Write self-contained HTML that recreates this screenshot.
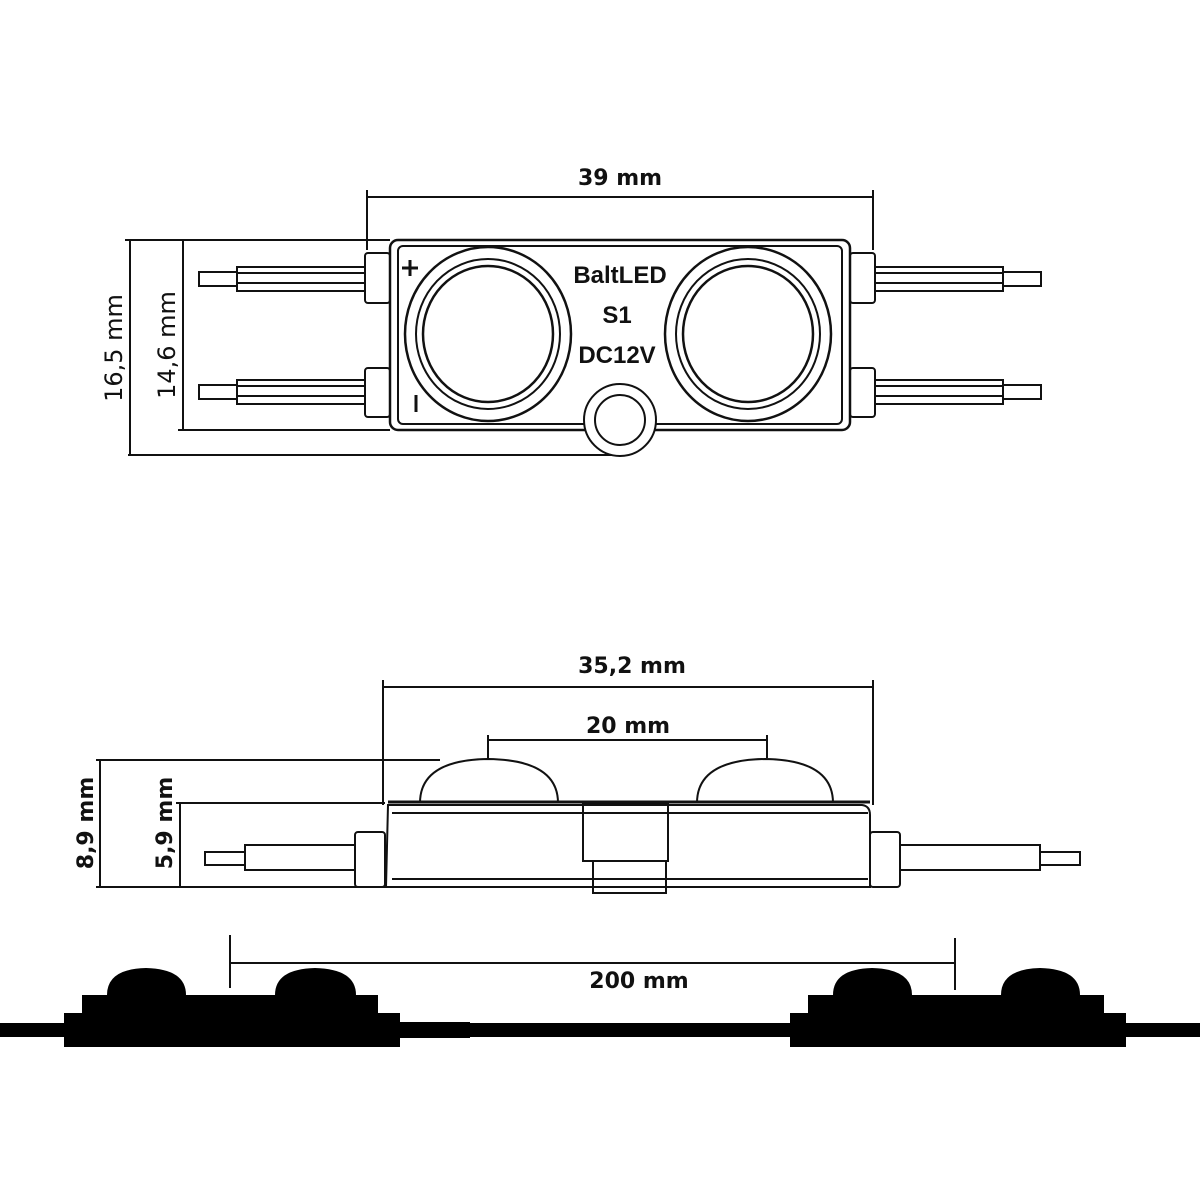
<!DOCTYPE html>
<html><head><meta charset="utf-8"><style>
html,body{margin:0;padding:0;background:#fff}
svg{display:block}
text{font-family:"DejaVu Sans","Liberation Sans",sans-serif;font-weight:bold;fill:#111}
</style></head><body>
<svg width="1200" height="1200" viewBox="0 0 1200 1200" xmlns="http://www.w3.org/2000/svg">
<g fill="none" stroke="#111" stroke-width="2">
<!-- TOP VIEW dimensions -->
<line x1="367" y1="197" x2="873" y2="197"/>
<line x1="367" y1="190" x2="367" y2="250"/>
<line x1="873" y1="190" x2="873" y2="250"/>
<line x1="125" y1="240" x2="390" y2="240"/>
<line x1="128" y1="455" x2="620" y2="455"/>
<line x1="130" y1="240" x2="130" y2="455"/>
<line x1="178" y1="430" x2="390" y2="430"/>
<line x1="183" y1="240" x2="183" y2="430"/>
<!-- left wires -->
<rect x="199" y="272" width="38" height="14"/>
<rect x="237" y="267" width="128" height="24"/>
<line x1="237" y1="273" x2="365" y2="273"/><line x1="237" y1="283" x2="365" y2="283"/>
<rect x="199" y="385" width="38" height="14"/>
<rect x="237" y="380" width="128" height="24"/>
<line x1="237" y1="386" x2="365" y2="386"/><line x1="237" y1="396" x2="365" y2="396"/>
<rect x="365" y="253" width="25" height="50" rx="3"/>
<rect x="365" y="368" width="25" height="49" rx="3"/>
<!-- right wires -->
<rect x="1003" y="272" width="38" height="14"/>
<rect x="875" y="267" width="128" height="24"/>
<line x1="875" y1="273" x2="1003" y2="273"/><line x1="875" y1="283" x2="1003" y2="283"/>
<rect x="1003" y="385" width="38" height="14"/>
<rect x="875" y="380" width="128" height="24"/>
<line x1="875" y1="386" x2="1003" y2="386"/><line x1="875" y1="396" x2="1003" y2="396"/>
<rect x="850" y="253" width="25" height="50" rx="3"/>
<rect x="850" y="368" width="25" height="49" rx="3"/>
<!-- body -->
<rect x="390" y="240" width="460" height="190" rx="8" stroke-width="2.5"/>
<rect x="398" y="246" width="444" height="178" rx="5"/>
<!-- lenses -->
<ellipse cx="488" cy="334" rx="83" ry="87" stroke-width="2.5"/>
<ellipse cx="488" cy="334" rx="72" ry="75"/>
<ellipse cx="488" cy="334" rx="65" ry="68" stroke-width="2.5"/>
<ellipse cx="748" cy="334" rx="83" ry="87" stroke-width="2.5"/>
<ellipse cx="748" cy="334" rx="72" ry="75"/>
<ellipse cx="748" cy="334" rx="65" ry="68" stroke-width="2.5"/>
<circle cx="620" cy="420" r="36" fill="#fff"/>
<circle cx="620" cy="420" r="25"/>
<line x1="410" y1="260" x2="410" y2="276" stroke-width="3"/><line x1="402" y1="268" x2="418" y2="268" stroke-width="3"/>
<line x1="416" y1="395" x2="416" y2="412" stroke-width="3"/>
<!-- SIDE VIEW dimensions -->
<line x1="383" y1="687" x2="873" y2="687"/>
<line x1="383" y1="680" x2="383" y2="805"/>
<line x1="873" y1="680" x2="873" y2="805"/>
<line x1="488" y1="740" x2="767" y2="740"/>
<line x1="488" y1="735" x2="488" y2="758"/>
<line x1="767" y1="735" x2="767" y2="758"/>
<line x1="96" y1="760" x2="440" y2="760"/>
<line x1="100" y1="760" x2="100" y2="887"/>
<line x1="96" y1="887" x2="385" y2="887"/>
<line x1="176" y1="803" x2="385" y2="803"/>
<line x1="180" y1="803" x2="180" y2="887"/>
<!-- side body -->
<path d="M420 803 Q420 760 488 759 Q558 760 558 803"/>
<path d="M697 803 Q697 760 765 759 Q833 760 833 803"/>
<line x1="388" y1="802" x2="870" y2="802" stroke-width="3"/>
<path d="M388 805 L862 805 Q870 806 870 815 L870 887 L386 887 Z"/>
<line x1="392" y1="813" x2="868" y2="813"/>
<line x1="392" y1="879" x2="868" y2="879"/>
<rect x="583" y="803" width="85" height="58"/>
<rect x="593" y="861" width="73" height="32"/>
<rect x="355" y="832" width="30" height="55" rx="3"/>
<rect x="245" y="845" width="110" height="25"/>
<rect x="205" y="852" width="40" height="13"/>
<rect x="870" y="832" width="30" height="55" rx="3"/>
<rect x="900" y="845" width="140" height="25"/>
<rect x="1040" y="852" width="40" height="13"/>
<!-- 200 mm -->
<line x1="230" y1="963" x2="955" y2="963"/>
<line x1="230" y1="935" x2="230" y2="988"/>
<line x1="955" y1="938" x2="955" y2="990"/>
</g>
<!-- black silhouettes -->
<g fill="#000">
<rect x="0" y="1023" width="1200" height="14"/>
<rect x="400" y="1022" width="70" height="16"/>
<rect x="82" y="995" width="296" height="52"/>
<rect x="64" y="1013" width="336" height="34"/>
<path d="M107 995 Q107 969 146 968 Q186 969 186 995 Z"/>
<path d="M275 995 Q275 969 315 968 Q356 969 356 995 Z"/>
<rect x="808" y="995" width="296" height="52"/>
<rect x="790" y="1013" width="336" height="34"/>
<path d="M833 995 Q833 969 872 968 Q912 969 912 995 Z"/>
<path d="M1001 995 Q1001 969 1040 968 Q1080 969 1080 995 Z"/>
</g>
<!-- text -->
<text x="620" y="185" font-size="22" text-anchor="middle">39 mm</text>
<text transform="translate(122,348) rotate(-90)" font-size="24" font-weight="normal" text-anchor="middle" style="font-weight:normal">16,5  mm</text>
<text transform="translate(175,345) rotate(-90)" font-size="24" text-anchor="middle" style="font-weight:normal">14,6  mm</text>
<text x="620" y="283" font-size="24" text-anchor="middle" font-family="Liberation Sans" style="font-family:'Liberation Sans',sans-serif">BaltLED</text>
<text x="617" y="323" font-size="24" text-anchor="middle" style="font-family:'Liberation Sans',sans-serif">S1</text>
<text x="617" y="363" font-size="24" text-anchor="middle" style="font-family:'Liberation Sans',sans-serif">DC12V</text>
<text x="632" y="673" font-size="22" text-anchor="middle">35,2 mm</text>
<text x="628" y="733" font-size="22" text-anchor="middle">20 mm</text>
<text transform="translate(93,823) rotate(-90)" font-size="22" text-anchor="middle">8,9 mm</text>
<text transform="translate(172,823) rotate(-90)" font-size="22" text-anchor="middle">5,9 mm</text>
<text x="639" y="988" font-size="22" text-anchor="middle">200 mm</text>
</svg>
</body></html>
